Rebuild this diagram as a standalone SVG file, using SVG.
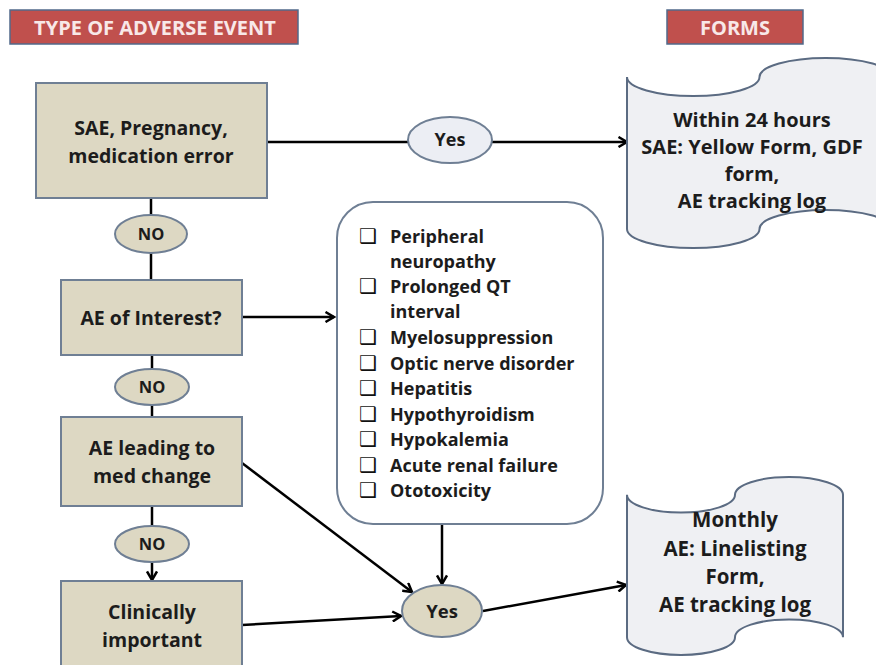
<svg xmlns="http://www.w3.org/2000/svg" width="876" height="665" viewBox="0 0 876 665">
<defs>
<style>
.hdr{fill:#c0504d;stroke:#52698a;stroke-width:1.5}
.hdrt{font-family:"Open Sans","Liberation Sans",sans-serif;font-weight:bold;font-size:20px;fill:#f8e8e8;text-anchor:middle}
.box{fill:#ddd8c3;stroke:#6f7f94;stroke-width:2}
.ell{fill:#ddd8c3;stroke:#6f7f94;stroke-width:2}
.ellb{fill:#eceef4;stroke:#6f7f94;stroke-width:2}
.form{fill:#eff0f3;stroke:#5b6b82;stroke-width:2}
.list{fill:#ffffff;stroke:#6f7f94;stroke-width:2}
.t{font-family:"Open Sans","Liberation Sans",sans-serif;font-weight:bold;font-size:19.5px;fill:#1c1c1c;text-anchor:middle}
.tf{font-family:"Open Sans","Liberation Sans",sans-serif;font-weight:bold;font-size:20.5px;fill:#1c1c1c;text-anchor:middle}
.tf1{font-family:"Open Sans","Liberation Sans",sans-serif;font-weight:bold;font-size:20px;fill:#1c1c1c;text-anchor:middle}
.tl{font-family:"Open Sans","Liberation Sans",sans-serif;font-weight:bold;font-size:18px;fill:#1c1c1c}
.cb{font-family:"DejaVu Sans",sans-serif;font-size:20px;fill:#111}
.tn{font-family:"Open Sans","Liberation Sans",sans-serif;font-weight:bold;font-size:16.5px;fill:#1c1c1c;text-anchor:middle}
.c{fill:none;stroke:#000;stroke-width:2.5}
</style>
<marker id="ah" viewBox="0 0 12 12" refX="10.5" refY="6" markerWidth="12" markerHeight="12" orient="auto" markerUnits="userSpaceOnUse">
<path d="M2,1 L10.5,6 L2,11" fill="none" stroke="#000" stroke-width="2.5"/>
</marker>
</defs>
<rect width="876" height="665" fill="#ffffff"/>

<g id="header-type">
<rect class="hdr" x="10" y="10" width="288" height="34"/>
<text class="hdrt" x="155" y="35">TYPE OF ADVERSE EVENT</text>
</g>
<g id="header-forms">
<rect class="hdr" x="667" y="10" width="136" height="34"/>
<text class="hdrt" x="735" y="35">FORMS</text>
</g>

<g id="connectors">
<line class="c" x1="267" y1="142" x2="408" y2="142"/>
<line class="c" x1="492" y1="142" x2="627" y2="142" marker-end="url(#ah)"/>
<line class="c" x1="151" y1="198" x2="151" y2="215"/>
<line class="c" x1="151" y1="253" x2="151" y2="280"/>
<line class="c" x1="242" y1="317" x2="334" y2="317" marker-end="url(#ah)"/>
<line class="c" x1="152" y1="355" x2="152" y2="369"/>
<line class="c" x1="152" y1="405" x2="152" y2="417"/>
<line class="c" x1="152" y1="506" x2="152" y2="526"/>
<line class="c" x1="152" y1="562" x2="152" y2="580" marker-end="url(#ah)"/>
<line class="c" x1="242" y1="463" x2="412" y2="592" marker-end="url(#ah)"/>
<line class="c" x1="442" y1="524" x2="442" y2="584" marker-end="url(#ah)"/>
<line class="c" x1="242" y1="625" x2="401" y2="616" marker-end="url(#ah)"/>
<line class="c" x1="483" y1="611" x2="626" y2="585" marker-end="url(#ah)"/>
</g>

<g id="sae">
<rect class="box" x="36" y="83" width="231" height="115"/>
<text class="t" x="151" y="135">SAE, Pregnancy,</text>
<text class="t" x="151" y="163">medication error</text>
</g>
<g id="yes1">
<ellipse class="ellb" cx="450" cy="140" rx="42" ry="23"/>
<text class="tn" x="450" y="146" style="font-size:18px">Yes</text>
</g>
<g id="form1">
<path class="form" d="M627,77 A66.25,19 0 0 0 759.5,77 A66.25,19 0 0 1 892,77 L892,229 A66.25,19 0 0 0 759.5,229 A66.25,19 0 0 1 627,229 Z"/>
<text class="tf1" x="752" y="127">Within 24 hours</text>
<text class="tf1" x="752" y="154">SAE: Yellow Form, GDF</text>
<text class="tf1" x="752" y="181">form,</text>
<text class="tf1" x="752" y="208">AE tracking log</text>
</g>
<g id="no1">
<ellipse class="ell" cx="151" cy="234" rx="36" ry="19"/>
<text class="tn" x="151" y="240">NO</text>
</g>
<g id="interest">
<rect class="box" x="61" y="280" width="181" height="75"/>
<text class="t" x="151" y="325">AE of Interest?</text>
</g>
<g id="list">
<rect class="list" x="337" y="202" width="266" height="322" rx="36" ry="36"/>
<text class="cb" x="359" y="243">❑</text><text class="tl" x="390" y="243">Peripheral</text>
<text class="tl" x="390" y="268">neuropathy</text>
<text class="cb" x="359" y="293">❑</text><text class="tl" x="390" y="293">Prolonged QT</text>
<text class="tl" x="390" y="318">interval</text>
<text class="cb" x="359" y="344">❑</text><text class="tl" x="390" y="344">Myelosuppression</text>
<text class="cb" x="359" y="370">❑</text><text class="tl" x="390" y="370">Optic nerve disorder</text>
<text class="cb" x="359" y="395">❑</text><text class="tl" x="390" y="395">Hepatitis</text>
<text class="cb" x="359" y="421">❑</text><text class="tl" x="390" y="421">Hypothyroidism</text>
<text class="cb" x="359" y="446">❑</text><text class="tl" x="390" y="446">Hypokalemia</text>
<text class="cb" x="359" y="472">❑</text><text class="tl" x="390" y="472">Acute renal failure</text>
<text class="cb" x="359" y="497">❑</text><text class="tl" x="390" y="497">Ototoxicity</text>
</g>
<g id="no2">
<ellipse class="ell" cx="152" cy="387" rx="37" ry="18"/>
<text class="tn" x="152" y="393">NO</text>
</g>
<g id="medchange">
<rect class="box" x="61" y="417" width="181" height="89"/>
<text class="t" x="152" y="455">AE leading to</text>
<text class="t" x="152" y="483">med change</text>
</g>
<g id="no3">
<ellipse class="ell" cx="152" cy="544" rx="37" ry="18"/>
<text class="tn" x="152" y="550">NO</text>
</g>
<g id="clinical">
<rect class="box" x="61" y="581" width="181" height="110"/>
<text class="t" x="152" y="619">Clinically</text>
<text class="t" x="152" y="647">important</text>
</g>
<g id="yes2">
<ellipse class="ell" cx="442" cy="611" rx="40" ry="26"/>
<text class="tn" x="442" y="618" style="font-size:18.5px">Yes</text>
</g>
<g id="form2">
<path class="form" d="M627,494.8 A54,17.8 0 0 0 735,494.8 A54,17.8 0 0 1 843,494.8 L843,637.2 A54,17.8 0 0 0 735,637.2 A54,17.8 0 0 1 627,637.2 Z"/>
<text class="tf" x="735" y="527">Monthly</text>
<text class="tf" x="735" y="556">AE: Linelisting</text>
<text class="tf" x="735" y="584">Form,</text>
<text class="tf" x="735" y="612">AE tracking log</text>
</g>
</svg>
